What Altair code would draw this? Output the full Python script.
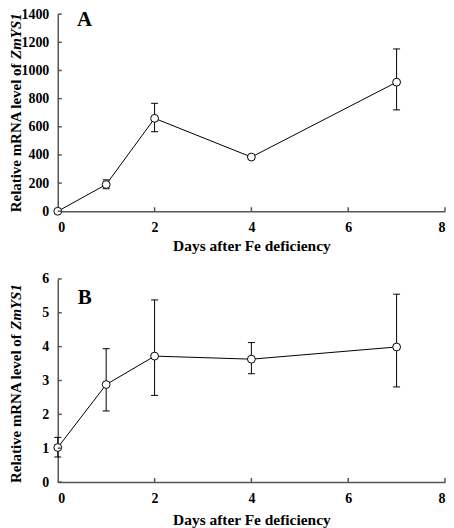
import altair as alt
import pandas as pd

days = [0, 1, 2, 4, 7]

a_mean = [0, 190, 660, 385, 917]
a_lo = [0, 160, 565, 375, 720]
a_hi = [8, 223, 767, 395, 1153]

b_mean = [1.02, 2.88, 3.72, 3.63, 3.99]
b_lo = [0.74, 2.10, 2.56, 3.20, 2.81]
b_hi = [1.32, 3.94, 5.38, 4.12, 5.55]

x_ticks = [0, 2, 4, 6, 8]
a_ticks = [0, 200, 400, 600, 800, 1000, 1200, 1400]
b_ticks = [0, 1, 2, 3, 4, 5, 6]

x_title = "Days after Fe deficiency"
y_title_1 = "Relative mRNA level of "
y_title_2 = "ZmYS1"

FONT = "Liberation Serif"
W = 389
TFS = 15
T1_LEN = 154  # length of the first part of the y title at TFS


def panel(mean, lo, hi, yticks, letter, h, letter_y, lpad, tpad):
    df = pd.DataFrame({"day": days, "mean": mean, "lo": lo, "hi": hi})
    ymax = yticks[-1]
    xs = alt.Scale(domain=[0, 8], nice=False, zero=False)
    ys = alt.Scale(domain=[0, ymax], nice=False)
    xax = alt.Axis(values=x_ticks, title=x_title, ticks=False, grid=False,
                   labelPadding=lpad, titlePadding=tpad)
    yax = alt.Axis(values=yticks, title="", ticks=False, grid=False, labelPadding=9,
                   format="d")

    def X(f):
        return alt.X(f, scale=xs, axis=xax)

    def Y(f):
        return alt.Y(f, scale=ys, axis=yax)

    base = alt.Chart(df)
    err = base.mark_rule(color="black", strokeWidth=1).encode(
        x=X("day:Q"), y=Y("lo:Q"), y2="hi:Q")
    cap_lo = base.mark_tick(orient="horizontal", size=7, thickness=1, color="black",
                            opacity=1).encode(x=X("day:Q"), y=Y("lo:Q"))
    cap_hi = base.mark_tick(orient="horizontal", size=7, thickness=1, color="black",
                            opacity=1).encode(x=X("day:Q"), y=Y("hi:Q"))
    line = base.mark_line(color="black", strokeWidth=1).encode(x=X("day:Q"), y=Y("mean:Q"))
    pts = base.mark_point(shape="circle", filled=True, fill="white", stroke="black",
                          strokeWidth=1, size=62, opacity=1).encode(
        x=X("day:Q"), y=Y("mean:Q"))

    xt = alt.Chart(pd.DataFrame({"day": x_ticks[1:]})).mark_rule(
        color="#555", strokeWidth=1.5).encode(
        x=X("day:Q"), y=alt.value(h), y2=alt.value(h - 4))
    yt = alt.Chart(pd.DataFrame({"mean": yticks})).mark_rule(
        color="#555", strokeWidth=1.5).encode(
        y=Y("mean:Q"), x=alt.value(0), x2=alt.value(4))

    one = alt.Data(values=[{"k": 1}])
    lbl = alt.Chart(one).mark_text(text=letter, font=FONT, fontSize=21, fontWeight="bold",
                                   align="center", baseline="alphabetic",
                                   color="black").encode(
        x=alt.value(27), y=alt.value(letter_y))
    t1 = alt.Chart(one).mark_text(text=y_title_1, font=FONT, fontSize=TFS,
                                  fontWeight="bold", angle=270, align="left",
                                  baseline="middle", color="black").encode(
        x=alt.value(-42), y=alt.value(h + 1))
    t2 = alt.Chart(one).mark_text(text=y_title_2, font=FONT, fontSize=TFS,
                                  fontWeight="bold", fontStyle="italic", angle=270,
                                  align="left", baseline="middle",
                                  color="black").encode(
        x=alt.value(-42), y=alt.value(h + 1 - T1_LEN))

    return alt.layer(err, cap_lo, cap_hi, line, pts, xt, yt, lbl, t1, t2).properties(
        width=W, height=h)


pa = panel(a_mean, a_lo, a_hi, a_ticks, "A", 198, 12, 9, 4)
pb = panel(b_mean, b_lo, b_hi, b_ticks, "B", 204, 25, 10, 7)

chart = alt.vconcat(pa, pb, spacing=18).properties(
    padding={"left": 0, "top": -2, "right": 0, "bottom": 0}
).configure_view(stroke=None).configure_axis(
    domainColor="#555", domainWidth=1.5,
    labelFont=FONT, labelFontSize=14, labelFontWeight="bold", labelColor="black",
    titleFont=FONT, titleFontSize=15.5, titleFontWeight="bold", titleColor="black",
)

chart.save("out.html", embed_options={"renderer": "svg", "actions": False})
